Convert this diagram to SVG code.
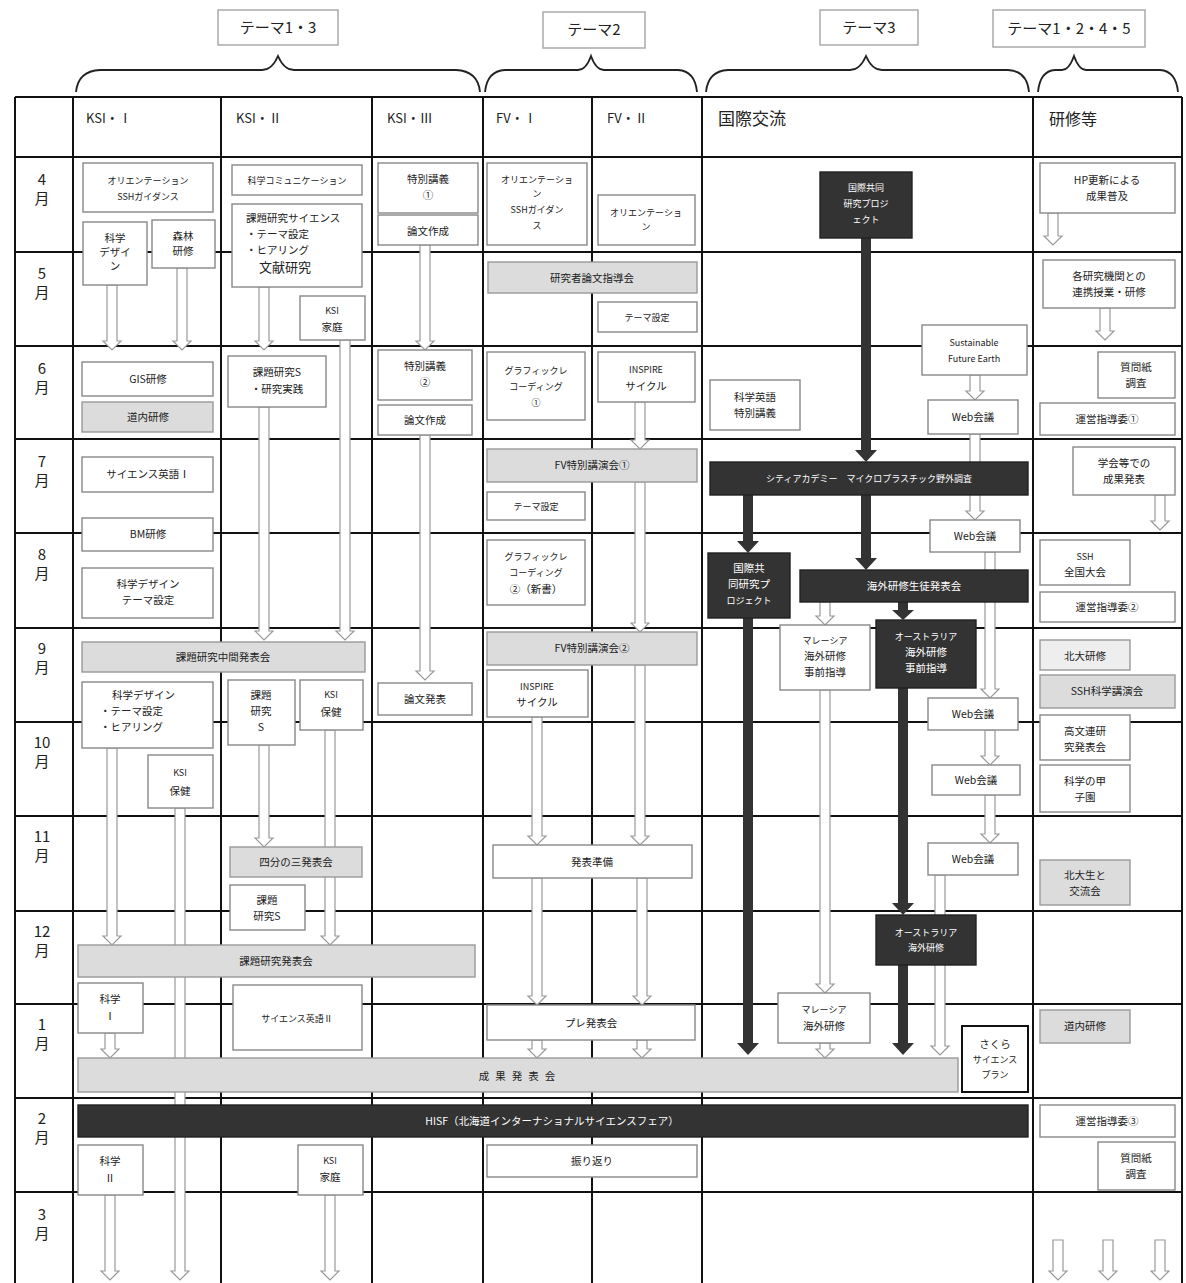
<svg xmlns="http://www.w3.org/2000/svg" width="1186" height="1283" viewBox="0 0 1186 1283">
<style>
.gl{stroke:#111;stroke-width:2;fill:none}
.br{stroke:#222;stroke-width:1.8;fill:none}
.tb{fill:#fff;stroke:#aaa;stroke-width:1.5}
.b{fill:#fff;stroke:#888;stroke-width:1.4}
.gb{fill:#dcdcdc;stroke:#999;stroke-width:1.4}
.lb{fill:#eee;stroke:#999;stroke-width:1.4}
.db{fill:#333;stroke:#222;stroke-width:1.4}
.kb{fill:#fff;stroke:#111;stroke-width:2}
.ha{fill:#fff;stroke:#999;stroke-width:1.2}
.da{fill:#333}
text{font-family:"Noto Sans CJK JP","Noto Sans",sans-serif;fill:#222}
.t{font-size:10.5px;text-anchor:middle}
.s{font-size:9px;text-anchor:middle}
.l{font-size:10.5px;text-anchor:start}
.w{fill:#fff}
.h{font-size:13px}
.m{font-size:15px;text-anchor:middle}
.th{font-size:15px;text-anchor:middle}
</style>
<rect width="1186" height="1283" fill="#fff"/>

<g id="themes">
<rect class="tb" x="218" y="10" width="120" height="35"/><text class="th" x="278" y="33">テーマ1・3</text>
<rect class="tb" x="543" y="12" width="102" height="36"/><text class="th" x="594" y="35">テーマ2</text>
<rect class="tb" x="820" y="10" width="98" height="35"/><text class="th" x="869" y="33">テーマ3</text>
<rect class="tb" x="993" y="10" width="152" height="37"/><text class="th" x="1069" y="34">テーマ1・2・4・5</text>
<path class="br" d="M76,92 Q78,71 100,70 H262 Q272,70 278,56 Q284,70 294,70 H456 Q478,71 480,92"/>
<path class="br" d="M485,92 Q487,71 505,70 H578 Q586,70 591,56 Q596,70 604,70 H678 Q695,71 697,92"/>
<path class="br" d="M706,92 Q708,71 728,70 H850 Q860,70 866,56 Q872,70 882,70 H1008 Q1027,71 1029,92"/>
<path class="br" d="M1038,92 Q1040,71 1055,70 H1062 Q1069,70 1074,56 Q1079,70 1086,70 H1160 Q1176,71 1178,92"/>
</g>

<g id="grid">
<path class="gl" d="M15,97 V1283 M73,97 V1283 M221,97 V1283 M372,97 V1283 M483,97 V1283 M592,97 V1283 M702,97 V1283 M1033,97 V1283 M1182,97 V1283"/>
<path class="gl" d="M15,97 H1182 M15,157 H1182 M15,252 H1182 M15,346 H1182 M15,439 H1182 M15,533 H1182 M15,628 H1182 M15,722 H1182 M15,816 H1182 M15,911 H1182 M15,1004 H1182 M15,1098 H1182 M15,1192 H1182"/>
<text class="h" x="86" y="123">KSI・Ⅰ</text>
<text class="h" x="236" y="123">KSI・Ⅱ</text>
<text class="h" x="387" y="123">KSI・Ⅲ</text>
<text class="h" x="496" y="123">FV・Ⅰ</text>
<text class="h" x="607" y="123">FV・Ⅱ</text>
<text x="718" y="125" font-size="17">国際交流</text>
<text x="1049" y="125" font-size="16">研修等</text>
<text class="m" x="42" y="185">4</text><text class="m" x="42" y="204">月</text>
<text class="m" x="42" y="279">5</text><text class="m" x="42" y="298">月</text>
<text class="m" x="42" y="374">6</text><text class="m" x="42" y="393">月</text>
<text class="m" x="42" y="467">7</text><text class="m" x="42" y="486">月</text>
<text class="m" x="42" y="560">8</text><text class="m" x="42" y="579">月</text>
<text class="m" x="42" y="654">9</text><text class="m" x="42" y="673">月</text>
<text class="m" x="42" y="748">10</text><text class="m" x="42" y="767">月</text>
<text class="m" x="42" y="842">11</text><text class="m" x="42" y="861">月</text>
<text class="m" x="42" y="937">12</text><text class="m" x="42" y="956">月</text>
<text class="m" x="42" y="1030">1</text><text class="m" x="42" y="1049">月</text>
<text class="m" x="42" y="1124">2</text><text class="m" x="42" y="1143">月</text>
<text class="m" x="42" y="1220">3</text><text class="m" x="42" y="1239">月</text>
</g>

<g id="connectors">
<path class="ha" d="M107,285 V341 H103 L112,350 L121,341 H117 V285 Z"/>
<path class="ha" d="M177,268 V341 H173 L182,350 L191,341 H187 V268 Z"/>
<path class="ha" d="M259,287 V341 H255 L264,350 L273,341 H269 V287 Z"/>
<path class="ha" d="M420,245 V341 H416 L425,350 L434,341 H430 V245 Z"/>
<path class="ha" d="M340,340 V631 H336 L345,640 L354,631 H350 V340 Z"/>
<path class="ha" d="M259,407 V631 H255 L264,640 L273,631 H269 V407 Z"/>
<path class="ha" d="M420,435 V671 H416 L425,680 L434,671 H430 V435 Z"/>
<path class="ha" d="M635,402 V440 H631 L640,449 L649,440 H645 V402 Z"/>
<path class="ha" d="M635,482 V623 H631 L640,632 L649,623 H645 V482 Z"/>
<path class="ha" d="M635,665 V836 H631 L640,845 L649,836 H645 V665 Z"/>
<path class="ha" d="M532,717 V836 H528 L537,845 L546,836 H542 V717 Z"/>
<path class="ha" d="M532,878 V996 H528 L537,1005 L546,996 H542 V878 Z"/>
<path class="ha" d="M637,878 V996 H633 L642,1005 L651,996 H647 V878 Z"/>
<path class="ha" d="M532,1040 V1049 H528 L537,1058 L546,1049 H542 V1040 Z"/>
<path class="ha" d="M637,1040 V1049 H633 L642,1058 L651,1049 H647 V1040 Z"/>
<path class="ha" d="M107,748 V936 H103 L112,945 L121,936 H117 V748 Z"/>
<path class="ha" d="M175,808 V1271 H171 L180,1280 L189,1271 H185 V808 Z"/>
<path class="ha" d="M259,745 V838 H255 L264,847 L273,838 H269 V745 Z"/>
<path class="ha" d="M325,730 V936 H321 L330,945 L339,936 H335 V730 Z"/>
<path class="ha" d="M105,1033 V1049 H101 L110,1058 L119,1049 H115 V1033 Z"/>
<path class="ha" d="M105,1195 V1271 H101 L110,1280 L119,1271 H115 V1195 Z"/>
<path class="ha" d="M325,1195 V1271 H321 L330,1280 L339,1271 H335 V1195 Z"/>
<path class="ha" d="M820,602 V616 H816 L825,625 L834,616 H830 V602 Z"/>
<path class="ha" d="M820,690 V984 H816 L825,993 L834,984 H830 V690 Z"/>
<path class="ha" d="M820,1043 V1049 H816 L825,1058 L834,1049 H830 V1043 Z"/>
<path class="ha" d="M970,375 V391 H966 L975,400 L984,391 H980 V375 Z"/>
<path class="ha" d="M970,434 V511 H966 L975,520 L984,511 H980 V434 Z"/>
<path class="ha" d="M985,552 V689 H981 L990,698 L999,689 H995 V552 Z"/>
<path class="ha" d="M985,730 V756 H981 L990,765 L999,756 H995 V730 Z"/>
<path class="ha" d="M985,795 V834 H981 L990,843 L999,834 H995 V795 Z"/>
<path class="ha" d="M935,875 V1046 H931 L940,1055 L949,1046 H945 V875 Z"/>
<path class="ha" d="M1048,213 V236 H1044 L1053,245 L1062,236 H1058 V213 Z"/>
<path class="ha" d="M1100,308 V331 H1096 L1105,340 L1114,331 H1110 V308 Z"/>
<path class="ha" d="M1155,495 V521 H1151 L1160,530 L1169,521 H1165 V495 Z"/>
<path class="ha" d="M1053,1240 V1271 H1049 L1058,1280 L1067,1271 H1063 V1240 Z"/>
<path class="ha" d="M1103,1240 V1271 H1099 L1108,1280 L1117,1271 H1113 V1240 Z"/>
<path class="ha" d="M1155,1240 V1271 H1151 L1160,1280 L1169,1271 H1165 V1240 Z"/>
<path class="da" d="M861,238 V450 H855 L866,462 L877,450 H871 V238 Z"/>
<path class="da" d="M861,495 V558 H855 L866,570 L877,558 H871 V495 Z"/>
<path class="da" d="M743,495 V541 H737 L748,553 L759,541 H753 V495 Z"/>
<path class="da" d="M743,618 V1043 H737 L748,1055 L759,1043 H753 V618 Z"/>
<path class="da" d="M898,602 V610 H892 L903,620 L914,610 H908 V602 Z"/>
<path class="da" d="M898,688 V903 H892 L903,915 L914,903 H908 V688 Z"/>
<path class="da" d="M898,965 V1043 H892 L903,1055 L914,1043 H908 V965 Z"/>
</g>

<g id="n1"><rect class="b" x="83" y="163" width="130" height="49"/><text class="s" x="148" y="184">オリエンテーション</text><text class="s" x="148" y="200">SSHガイダンス</text></g>
<g id="n2"><rect class="b" x="83" y="222" width="64" height="63"/><text class="t" x="115" y="242">科学</text><text class="t" x="115" y="256">デザイ</text><text class="t" x="115" y="270">ン</text></g>
<g id="n3"><rect class="b" x="152" y="220" width="63" height="48"/><text class="t" x="183" y="240">森林</text><text class="t" x="183" y="255">研修</text></g>
<g id="n4"><rect class="b" x="82" y="362" width="131" height="34"/><text class="t" x="148" y="383">GIS研修</text></g>
<g id="n5"><rect class="gb" x="82" y="402" width="131" height="30"/><text class="t" x="148" y="421">道内研修</text></g>
<g id="n6"><rect class="b" x="82" y="457" width="131" height="35"/><text class="t" x="148" y="478">サイエンス英語Ⅰ</text></g>
<g id="n7"><rect class="b" x="82" y="518" width="131" height="33"/><text class="t" x="148" y="538">BM研修</text></g>
<g id="n8"><rect class="b" x="82" y="568" width="131" height="50"/><text class="t" x="148" y="588">科学デザイン</text><text class="t" x="148" y="604">テーマ設定</text></g>
<g id="n9"><rect class="gb" x="82" y="642" width="283" height="30"/><text class="t" x="223" y="661">課題研究中間発表会</text></g>
<g id="n10"><rect class="b" x="82" y="682" width="131" height="66"/><text class="l" x="112" y="699">科学デザイン</text><text class="l" x="100" y="715">・テーマ設定</text><text class="l" x="100" y="731">・ヒアリング</text></g>
<g id="n11"><rect class="b" x="148" y="755" width="65" height="53"/><text class="s" x="180" y="776">KSI</text><text class="t" x="180" y="795">保健</text></g>
<g id="n12"><rect class="gb" x="78" y="945" width="397" height="32"/><text class="t" x="276" y="965">課題研究発表会</text></g>
<g id="n13"><rect class="b" x="78" y="983" width="65" height="50"/><text class="t" x="110" y="1003">科学</text><text class="t" x="110" y="1020">Ⅰ</text></g>
<g id="n14"><rect class="gb" x="78" y="1058" width="880" height="34"/><text class="t" x="520" y="1080" letter-spacing="6">成果発表会</text></g>
<g id="n15"><rect class="db" x="78" y="1105" width="950" height="32"/><text class="t w" x="552" y="1125">HISF（北海道インターナショナルサイエンスフェア）</text></g>
<g id="n16"><rect class="b" x="78" y="1145" width="65" height="50"/><text class="t" x="110" y="1165">科学</text><text class="t" x="110" y="1182">Ⅱ</text></g>

<g id="n17"><rect class="b" x="232" y="165" width="130" height="30"/><text class="s" x="297" y="184">科学コミュニケーション</text></g>
<g id="n18"><rect class="b" x="232" y="204" width="130" height="83"/><text class="l" x="246" y="222">課題研究サイエンス</text><text class="l" x="246" y="238">・テーマ設定</text><text class="l" x="246" y="254">・ヒアリング</text><text x="259" y="272" font-size="13">文献研究</text></g>
<g id="n19"><rect class="b" x="300" y="296" width="65" height="44"/><text class="s" x="332" y="314">KSI</text><text class="t" x="332" y="331">家庭</text></g>
<g id="n20"><rect class="b" x="228" y="356" width="98" height="51"/><text class="t" x="277" y="376">課題研究S</text><text class="t" x="277" y="393">・研究実践</text></g>
<g id="n21"><rect class="b" x="228" y="680" width="67" height="65"/><text class="t" x="261" y="699">課題</text><text class="t" x="261" y="715">研究</text><text class="t" x="261" y="731">S</text></g>
<g id="n22"><rect class="b" x="300" y="680" width="63" height="50"/><text class="s" x="331" y="698">KSI</text><text class="t" x="331" y="716">保健</text></g>
<g id="n23"><rect class="gb" x="230" y="847" width="132" height="30"/><text class="t" x="296" y="866">四分の三発表会</text></g>
<g id="n24"><rect class="b" x="230" y="885" width="75" height="45"/><text class="t" x="267" y="904">課題</text><text class="t" x="267" y="920">研究S</text></g>
<g id="n25"><rect class="b" x="233" y="985" width="129" height="65"/><text class="s" x="297" y="1022">サイエンス英語Ⅱ</text></g>
<g id="n26"><rect class="b" x="298" y="1145" width="65" height="50"/><text class="s" x="330" y="1164">KSI</text><text class="t" x="330" y="1181">家庭</text></g>

<g id="n27"><rect class="b" x="378" y="163" width="100" height="50"/><text class="t" x="428" y="183">特別講義</text><text class="t" x="428" y="199">①</text></g>
<g id="n28"><rect class="b" x="378" y="215" width="100" height="30"/><text class="t" x="428" y="235">論文作成</text></g>
<g id="n29"><rect class="b" x="378" y="350" width="94" height="50"/><text class="t" x="425" y="370">特別講義</text><text class="t" x="425" y="386">②</text></g>
<g id="n30"><rect class="b" x="378" y="405" width="94" height="30"/><text class="t" x="425" y="424">論文作成</text></g>
<g id="n31"><rect class="b" x="378" y="683" width="94" height="32"/><text class="t" x="425" y="703">論文発表</text></g>

<g id="n32"><rect class="b" x="487" y="163" width="100" height="82"/><text class="s" x="537" y="183">オリエンテーショ</text><text class="s" x="537" y="197">ン</text><text class="s" x="537" y="213">SSHガイダン</text><text class="s" x="537" y="229">ス</text></g>
<g id="n33"><rect class="gb" x="488" y="262" width="209" height="31"/><text class="t" x="592" y="282">研究者論文指導会</text></g>
<g id="n34"><rect class="b" x="487" y="352" width="98" height="68"/><text class="s" x="536" y="374">グラフィックレ</text><text class="s" x="536" y="390">コーディング</text><text class="s" x="536" y="406">①</text></g>
<g id="n35"><rect class="gb" x="487" y="449" width="210" height="33"/><text class="t" x="592" y="469">FV特別講演会①</text></g>
<g id="n36"><rect class="b" x="487" y="492" width="98" height="28"/><text class="s" x="536" y="510">テーマ設定</text></g>
<g id="n37"><rect class="b" x="487" y="540" width="98" height="65"/><text class="s" x="536" y="560">グラフィックレ</text><text class="s" x="536" y="576">コーディング</text><text class="t" x="536" y="593">②（新書）</text></g>
<g id="n38"><rect class="gb" x="487" y="632" width="210" height="33"/><text class="t" x="592" y="652">FV特別講演会②</text></g>
<g id="n39"><rect class="b" x="487" y="670" width="101" height="47"/><text class="s" x="537" y="690">INSPIRE</text><text class="t" x="537" y="706">サイクル</text></g>
<g id="n40"><rect class="b" x="493" y="845" width="199" height="33"/><text class="t" x="592" y="866">発表準備</text></g>
<g id="n41"><rect class="b" x="487" y="1005" width="208" height="35"/><text class="t" x="591" y="1027">プレ発表会</text></g>
<g id="n42"><rect class="b" x="487" y="1145" width="210" height="32"/><text class="t" x="592" y="1165">振り返り</text></g>

<g id="n43"><rect class="b" x="598" y="195" width="97" height="50"/><text class="s" x="646" y="216">オリエンテーショ</text><text class="s" x="646" y="230">ン</text></g>
<g id="n44"><rect class="b" x="598" y="302" width="99" height="30"/><text class="s" x="647" y="321">テーマ設定</text></g>
<g id="n45"><rect class="b" x="598" y="352" width="97" height="50"/><text class="s" x="646" y="373">INSPIRE</text><text class="t" x="646" y="390">サイクル</text></g>

<g id="n46"><rect class="db" x="820" y="172" width="92" height="66"/><text class="s w" x="866" y="191">国際共同</text><text class="s w" x="866" y="207">研究プロジ</text><text class="s w" x="866" y="223">ェクト</text></g>
<g id="n47"><rect class="b" x="710" y="380" width="90" height="50"/><text class="t" x="755" y="401">科学英語</text><text class="t" x="755" y="417">特別講義</text></g>
<g id="n48"><rect class="b" x="922" y="325" width="105" height="50"/><text class="s" x="974" y="346">Sustainable</text><text class="s" x="974" y="362">Future Earth</text></g>
<g id="n49"><rect class="b" x="928" y="400" width="90" height="34"/><text class="t" x="973" y="421">Web会議</text></g>
<g id="n50"><rect class="db" x="710" y="462" width="318" height="33"/><text class="s w" x="869" y="482">シティアカデミー　マイクロプラスチック野外調査</text></g>
<g id="n51"><rect class="b" x="930" y="520" width="90" height="32"/><text class="t" x="975" y="540">Web会議</text></g>
<g id="n52"><rect class="db" x="708" y="553" width="82" height="65"/><text class="t w" x="749" y="572">国際共</text><text class="t w" x="749" y="588">同研究プ</text><text class="s w" x="749" y="604">ロジェクト</text></g>
<g id="n53"><rect class="db" x="800" y="570" width="228" height="32"/><text class="t w" x="914" y="590">海外研修生徒発表会</text></g>
<g id="n54"><rect class="b" x="780" y="625" width="90" height="65"/><text class="s" x="825" y="644">マレーシア</text><text class="t" x="825" y="660">海外研修</text><text class="t" x="825" y="676">事前指導</text></g>
<g id="n55"><rect class="db" x="876" y="620" width="100" height="68"/><text class="s w" x="926" y="640">オーストラリア</text><text class="t w" x="926" y="656">海外研修</text><text class="t w" x="926" y="672">事前指導</text></g>
<g id="n56"><rect class="b" x="928" y="698" width="90" height="32"/><text class="t" x="973" y="718">Web会議</text></g>
<g id="n57"><rect class="b" x="932" y="765" width="88" height="30"/><text class="t" x="976" y="784">Web会議</text></g>
<g id="n58"><rect class="b" x="928" y="843" width="90" height="32"/><text class="t" x="973" y="863">Web会議</text></g>
<g id="n59"><rect class="db" x="876" y="915" width="100" height="50"/><text class="s w" x="926" y="936">オーストラリア</text><text class="s w" x="926" y="951">海外研修</text></g>
<g id="n60"><rect class="b" x="778" y="993" width="92" height="50"/><text class="s" x="824" y="1013">マレーシア</text><text class="t" x="824" y="1030">海外研修</text></g>
<g id="n61"><rect class="kb" x="962" y="1026" width="66" height="66"/><text class="t" x="995" y="1048">さくら</text><text class="s" x="995" y="1063">サイエンス</text><text class="s" x="995" y="1078">プラン</text></g>

<g id="n62"><rect class="b" x="1040" y="163" width="135" height="50"/><text class="t" x="1107" y="184">HP更新による</text><text class="t" x="1107" y="200">成果普及</text></g>
<g id="n63"><rect class="b" x="1043" y="260" width="132" height="48"/><text class="t" x="1109" y="280">各研究機関との</text><text class="t" x="1109" y="296">連携授業・研修</text></g>
<g id="n64"><rect class="b" x="1098" y="352" width="77" height="46"/><text class="t" x="1136" y="371">質問紙</text><text class="t" x="1136" y="387">調査</text></g>
<g id="n65"><rect class="b" x="1040" y="403" width="135" height="32"/><text class="t" x="1107" y="423">運営指導委①</text></g>
<g id="n66"><rect class="b" x="1073" y="447" width="102" height="48"/><text class="t" x="1124" y="467">学会等での</text><text class="t" x="1124" y="483">成果発表</text></g>
<g id="n67"><rect class="b" x="1040" y="540" width="90" height="45"/><text class="s" x="1085" y="560">SSH</text><text class="t" x="1085" y="576">全国大会</text></g>
<g id="n68"><rect class="b" x="1040" y="592" width="135" height="30"/><text class="t" x="1107" y="611">運営指導委②</text></g>
<g id="n69"><rect class="lb" x="1040" y="640" width="90" height="30"/><text class="t" x="1085" y="660" font-size="12">北大研修</text></g>
<g id="n70"><rect class="gb" x="1040" y="675" width="135" height="33"/><text class="t" x="1107" y="695">SSH科学講演会</text></g>
<g id="n71"><rect class="b" x="1040" y="715" width="90" height="45"/><text class="t" x="1085" y="735">高文連研</text><text class="t" x="1085" y="751">究発表会</text></g>
<g id="n72"><rect class="b" x="1040" y="765" width="90" height="47"/><text class="t" x="1085" y="785">科学の甲</text><text class="t" x="1085" y="801">子園</text></g>
<g id="n73"><rect class="gb" x="1040" y="860" width="90" height="45"/><text class="t" x="1085" y="879">北大生と</text><text class="t" x="1085" y="895">交流会</text></g>
<g id="n74"><rect class="gb" x="1040" y="1010" width="90" height="33"/><text class="t" x="1085" y="1030">道内研修</text></g>
<g id="n75"><rect class="b" x="1040" y="1105" width="135" height="32"/><text class="t" x="1107" y="1125">運営指導委③</text></g>
<g id="n76"><rect class="b" x="1098" y="1142" width="77" height="48"/><text class="t" x="1136" y="1162">質問紙</text><text class="t" x="1136" y="1178">調査</text></g>
</svg>
